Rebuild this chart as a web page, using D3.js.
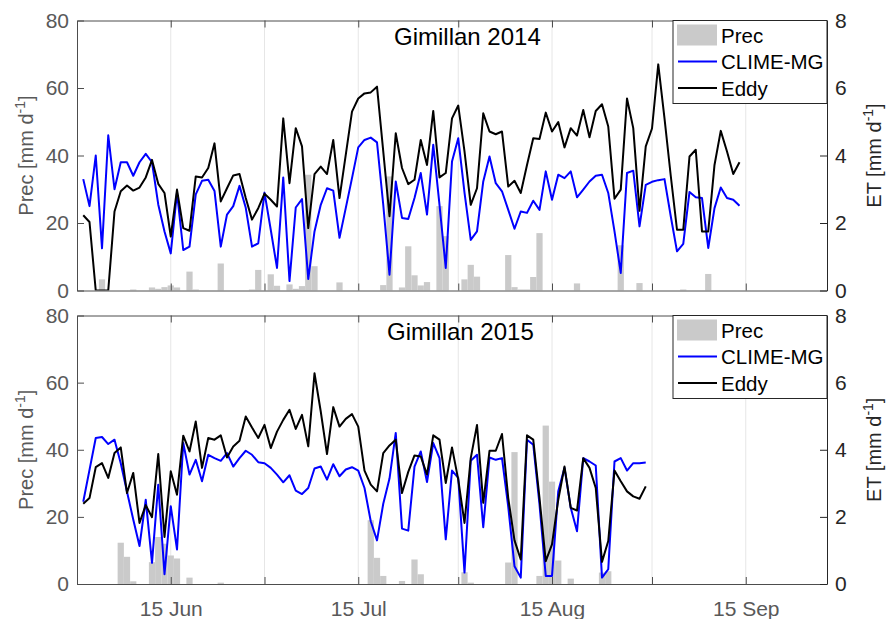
<!DOCTYPE html>
<html>
<head>
<meta charset="utf-8">
<script src="https://cdn.jsdelivr.net/npm/d3@7"></script>
<style>
  body { margin: 0; background: #fff; }
  svg { display: block; font-family: "Liberation Sans", Arial, Helvetica, sans-serif; }
</style>
</head>
<body>
<svg id="chart" width="886" height="619"></svg>
<script>
// ---- Daily ET series (mm d-1), one value per day starting at the given date ----
const etStart2014 = "2014-06-01";
const climeMG2014 = [
  3.3, 2.5, 4.0, 1.25, 4.6, 3.0, 3.8, 3.8, 3.4, 3.8,
  4.05, 3.8, 2.55, 1.75, 1.1, 2.9, 1.2, 1.3, 2.85, 3.25,
  3.28, 2.95, 1.3, 2.25, 2.5, 3.1, 2.45, 1.3, 1.4, 2.9,
  1.8, 0.67, 3.35, 0.28, 2.46, 2.71, 0.34, 1.75, 2.54, 3.03,
  2.96, 1.56, 2.44, 3.33, 4.24, 4.46, 4.53, 4.39, 2.54, 0.47,
  3.23, 2.15, 2.12, 2.74, 3.48, 2.25, 4.32, 2.54, 0.67, 3.82,
  4.51, 2.9, 1.5, 1.75, 3.23, 3.97, 3.18, 2.94, 2.39, 1.83,
  2.34, 2.30, 2.66, 2.39, 3.53, 2.69, 3.43, 3.33, 3.53, 2.76,
  2.99, 3.23, 3.40, 3.43, 2.89, 1.75, 0.52, 3.48, 3.55, 1.9,
  3.13, 3.22, 3.27, 3.3, 2.2, 1.16, 1.38, 2.92, 2.76, 2.74,
  1.26, 2.44, 3.05, 2.74, 2.69, 2.51
];
const eddy2014 = [
  2.23, 2.03, 0, 0, 0, 2.34, 2.94, 3.11, 2.96, 3.05,
  3.35, 3.87, 3.16, 2.89, 1.6, 2.99, 1.85, 1.77, 3.38, 3.35,
  3.63, 4.36, 2.64, 3.03, 3.41, 3.45, 2.74, 2.1, 2.44, 2.87,
  2.69, 2.49, 5.10, 3.18, 4.81, 4.27, 1.85, 3.45, 3.67, 3.45,
  4.46, 2.74, 4.02, 5.30, 5.69, 5.84, 5.87, 6.04, 4.12, 2.20,
  4.66, 3.63, 3.15, 3.28, 4.46, 3.72, 5.32, 3.35, 3.48, 5.10,
  5.48, 4.12, 2.54, 3.03, 5.25, 4.71, 4.63, 4.71, 3.08, 3.25,
  2.89, 3.72, 4.51, 4.49, 5.27, 4.71, 4.99, 4.24, 4.81, 4.59,
  5.35, 4.54, 5.32, 5.52, 4.86, 2.72, 2.99, 5.69, 4.81, 2.36,
  4.27, 4.8, 6.7, 5.1, 3.4, 1.8, 1.8, 3.97, 4.17, 1.75,
  1.75, 3.72, 4.73, 4.12, 3.45, 3.8
];

const etStart2015 = "2015-06-01";
const climeMG2015 = [
  2.45, 3.4, 4.35, 4.38, 4.17, 4.3, 3.6, 2.75, 1.92, 1.13,
  2.51, 0.63, 2.96, 0.29, 2.32, 1.03, 4.2, 3.26, 3.7, 3.06,
  3.85, 3.75, 3.67, 3.9, 3.5, 3.75, 3.97, 3.85, 3.63, 3.6,
  3.46, 3.26, 3.03, 3.24, 2.78, 2.68, 2.86, 3.44, 3.5, 3.11,
  3.57, 3.21, 3.41, 3.48, 3.38, 2.86, 1.87, 1.3, 2.39, 3.14,
  4.5, 1.65, 1.59, 3.5, 3.95, 3.04, 4.2, 3.75, 1.33, 3.38,
  3.16, 0.34, 3.67, 3.85, 1.69, 3.77, 3.7, 3.75, 2.3, 0.53,
  0.19, 4.3, 4.15, 2.37, 0.24, 0.24, 2.76, 3.46, 2.27, 1.57,
  3.75, 3.65, 3.53, 0.19, 0.44, 3.65, 3.75, 3.38, 3.6, 3.6,
  3.62
];
const eddy2015 = [
  2.39, 2.56, 3.48, 3.6, 3.16, 3.9, 4.07, 2.71, 3.31, 1.82,
  2.35, 1.99, 3.87, 1.4, 3.36, 2.66, 4.42, 3.95, 4.84, 3.46,
  4.35, 4.3, 4.43, 3.77, 4.1, 4.27, 4.99, 4.66, 4.35, 4.74,
  4.05, 4.54, 4.89, 5.19, 4.62, 5.04, 4.1, 6.28, 5.14, 3.87,
  5.27, 4.69, 4.92, 5.06, 4.69, 3.38, 2.96, 2.76, 3.9, 4.13,
  4.3, 2.71, 3.34, 3.83, 3.8, 3.26, 4.43, 4.3, 3.01, 4.07,
  3.11, 1.82, 3.75, 4.74, 2.42, 3.97, 3.97, 4.47, 2.56, 1.3,
  0.73, 4.43, 4.3, 2.56, 0.68, 1.18, 2.51, 3.5, 2.27, 2.19,
  3.75, 3.46, 2.86, 0.66, 1.28, 3.38, 3.06, 2.76, 2.61, 2.54,
  2.91
];

// ---- Daily precipitation (mm d-1), rainy days only ----
const precDates2014 = [
  "2014-06-04", "2014-06-09", "2014-06-12", "2014-06-13", "2014-06-14", "2014-06-15",
  "2014-06-16", "2014-06-18", "2014-06-19", "2014-06-23", "2014-06-28", "2014-06-29",
  "2014-07-01", "2014-07-02", "2014-07-04", "2014-07-05", "2014-07-06", "2014-07-07",
  "2014-07-08", "2014-07-12", "2014-07-19", "2014-07-20", "2014-07-22", "2014-07-23",
  "2014-07-24", "2014-07-25", "2014-07-26", "2014-07-28", "2014-07-29", "2014-08-01",
  "2014-08-02", "2014-08-03", "2014-08-08", "2014-08-09", "2014-08-10", "2014-08-11",
  "2014-08-12", "2014-08-13", "2014-08-19", "2014-08-26", "2014-08-29", "2014-09-05",
  "2014-09-09"
];
const prec2014 = [
  3.3, 0.3, 0.9, 0.5, 1.0, 1.5,
  0.9, 5.6, 0.3, 8.0, 0.3, 6.1,
  4.8, 1.4, 1.8, 0.5, 1.3, 34.3,
  7.2, 2.4, 1.6, 33.8, 0.9, 13.1,
  4.5, 1.5, 2.5, 25.0, 16.1, 3.3,
  7.6, 4.1, 10.5, 1.0, 0.3, 0.3,
  4.0, 17.0, 2.1, 13.4, 2.2, 0.3,
  4.9
];
const precDates2015 = [
  "2015-06-07", "2015-06-08", "2015-06-09", "2015-06-12", "2015-06-13", "2015-06-14",
  "2015-06-15", "2015-06-16", "2015-06-18", "2015-06-23", "2015-07-17", "2015-07-18",
  "2015-07-19", "2015-07-22", "2015-07-24", "2015-07-25", "2015-08-01", "2015-08-02",
  "2015-08-08", "2015-08-09", "2015-08-13", "2015-08-14", "2015-08-15", "2015-08-16",
  "2015-08-18", "2015-08-23", "2015-08-24"
];
const prec2015 = [
  12.3, 8.1, 0.8, 6.5, 14.0, 12.0,
  8.5, 7.6, 1.9, 0.4, 19.0, 7.8,
  2.4, 0.9, 7.3, 2.9, 3.5, 0.4,
  6.4, 39.3, 2.4, 47.2, 30.5, 7.0,
  1.6, 3.4, 3.8
];

// ---- Axis ticks and labels ----
const gridMonthDays = ["06-15", "06-30", "07-15", "07-31", "08-15", "08-31", "09-15"];
const labelMonthDays = ["06-15", "07-15", "08-15", "09-15"];
const precTicks = [0, 20, 40, 60, 80];
const etTicks = [0, 2, 4, 6, 8];
const seriesNames = ["Prec", "CLIME-MG", "Eddy"];
const titles = ["Gimillan 2014", "Gimillan 2015"];

const parse = d3.timeParse("%Y-%m-%d");
const fmtTick = d3.timeFormat("%-d %b");

const svg = d3.select("#chart");
svg.append("rect").attr("width", 886).attr("height", 619).attr("fill", "#fff");

const left = 77, right = 827;
const greyAxis = "#4d4d4d", darkAxis = "#262626";
const barColor = "#cacaca", climeColor = "#0000ff", eddyColor = "#000000";

const panels = [
  { year: 2014, top: 20.5, bottom: 290.5, title: titles[0], titleX: 394,
    etStart: etStart2014, clime: climeMG2014, eddy: eddy2014,
    precDates: precDates2014, prec: prec2014, xLabels: false },
  { year: 2015, top: 315.5, bottom: 584, title: titles[1], titleX: 387,
    etStart: etStart2015, clime: climeMG2015, eddy: eddy2015,
    precDates: precDates2015, prec: prec2015, xLabels: true }
];

panels.forEach((p, pi) => {
  const x = d3.scaleTime()
    .domain([new Date(p.year, 4, 31), new Date(p.year, 8, 28)])
    .range([left, right]);
  const yP = d3.scaleLinear().domain([0, 80]).range([p.bottom, p.top]);
  const yE = d3.scaleLinear().domain([0, 8]).range([p.bottom, p.top]);

  const g = svg.append("g");
  const clipId = "clip" + pi;
  svg.append("clipPath").attr("id", clipId).append("rect")
    .attr("x", left).attr("y", p.top).attr("width", right - left).attr("height", p.bottom - p.top);

  const gridDates = gridMonthDays.map(s => parse(p.year + "-" + s));
  const labelSet = new Set(labelMonthDays.map(s => +parse(p.year + "-" + s)));

  // vertical grid
  g.append("g").selectAll("line").data(gridDates).join("line")
    .attr("x1", d => x(d)).attr("x2", d => x(d))
    .attr("y1", p.top).attr("y2", p.bottom)
    .attr("stroke", "#e6e6e6").attr("stroke-width", 1);

  // precipitation bars
  const precData = p.precDates.map((s, i) => ({ date: parse(s), v: p.prec[i] }));
  const dayW = x(new Date(p.year, 5, 2)) - x(new Date(p.year, 5, 1));
  g.append("g").attr("clip-path", `url(#${clipId})`)
    .selectAll("rect").data(precData).join("rect")
    .attr("x", d => x(d.date) - dayW / 2)
    .attr("width", dayW)
    .attr("y", d => yP(d.v))
    .attr("height", d => yP(0) - yP(d.v))
    .attr("fill", barColor);

  // ET lines
  const start = parse(p.etStart);
  const toSeries = arr => arr.map((v, i) => ({ date: d3.timeDay.offset(start, i), v }));
  const line = d3.line().x(d => x(d.date)).y(d => yE(d.v));
  const lines = g.append("g").attr("clip-path", `url(#${clipId})`);
  lines.append("path").datum(toSeries(p.clime)).attr("d", line)
    .attr("fill", "none").attr("stroke", climeColor).attr("stroke-width", 2)
    .attr("stroke-linejoin", "round");
  lines.append("path").datum(toSeries(p.eddy)).attr("d", line)
    .attr("fill", "none").attr("stroke", eddyColor).attr("stroke-width", 2)
    .attr("stroke-linejoin", "round");

  // axes
  const tickLen = 7;
  const axB = g.append("g").attr("transform", `translate(0,${p.bottom})`)
    .call(d3.axisBottom(x).tickValues(gridDates).tickSizeInner(-tickLen).tickSizeOuter(0)
      .tickPadding(17).tickFormat(d => (p.xLabels && labelSet.has(+d)) ? fmtTick(d) : ""));
  const axT = g.append("g").attr("transform", `translate(0,${p.top})`)
    .call(d3.axisTop(x).tickValues(gridDates).tickSizeInner(-tickLen).tickSizeOuter(0).tickFormat(""));
  const axL = g.append("g").attr("transform", `translate(${left},0)`)
    .call(d3.axisLeft(yP).tickValues(precTicks).tickSizeInner(-tickLen).tickSizeOuter(0).tickPadding(8));
  const axR = g.append("g").attr("transform", `translate(${right},0)`)
    .call(d3.axisRight(yE).tickValues(etTicks).tickSizeInner(-tickLen).tickSizeOuter(0).tickPadding(8));

  [axB, axT, axL].forEach(a => {
    a.selectAll("path,line").attr("stroke", greyAxis);
    a.selectAll("text").attr("fill", "#595959").attr("font-size", 21)
      .attr("font-family", "Liberation Sans, Arial, sans-serif");
  });
  axR.selectAll("path,line").attr("stroke", darkAxis);
  axR.selectAll("text").attr("fill", darkAxis).attr("font-size", 21)
    .attr("font-family", "Liberation Sans, Arial, sans-serif");
  axB.selectAll("text").attr("dy", "0.71em");

  // axis titles
  const cy = (p.top + p.bottom) / 2;
  const yl = g.append("text").attr("transform", `translate(33,${cy}) rotate(-90)`)
    .attr("text-anchor", "middle").attr("font-size", 20).attr("fill", "#595959");
  yl.append("tspan").text("Prec [mm d");
  yl.append("tspan").attr("font-size", 14).attr("dy", -8).text("-1");
  yl.append("tspan").attr("dy", 8).text("]");

  const yr = g.append("text").attr("transform", `translate(881,${cy}) rotate(-90)`)
    .attr("text-anchor", "middle").attr("font-size", 20).attr("fill", darkAxis);
  yr.append("tspan").text("ET [mm d");
  yr.append("tspan").attr("font-size", 14).attr("dy", -8).text("-1");
  yr.append("tspan").attr("dy", 8).text("]");

  // panel title
  g.append("text").attr("x", p.titleX).attr("y", p.top + 24.5)
    .attr("font-size", 24).attr("fill", "#000").text(p.title);

  // legend
  const lg = g.append("g").attr("transform", `translate(673,${p.top})`);
  lg.append("rect").attr("width", 154).attr("height", 83)
    .attr("fill", "#fff").attr("stroke", "#262626").attr("stroke-width", 1);
  const rowY = [14.5, 41, 67.5];
  lg.append("rect").attr("x", 4).attr("y", rowY[0] - 10.5).attr("width", 40).attr("height", 21)
    .attr("fill", barColor);
  lg.append("line").attr("x1", 5).attr("x2", 44).attr("y1", rowY[1]).attr("y2", rowY[1])
    .attr("stroke", climeColor).attr("stroke-width", 2);
  lg.append("line").attr("x1", 5).attr("x2", 44).attr("y1", rowY[2]).attr("y2", rowY[2])
    .attr("stroke", eddyColor).attr("stroke-width", 2);
  lg.selectAll("text.lab").data(seriesNames).join("text").attr("class", "lab")
    .attr("x", 48).attr("y", (d, i) => rowY[i] + 7.8)
    .attr("font-size", 20.5).attr("fill", "#000").text(d => d);
});
</script>
</body>
</html>
